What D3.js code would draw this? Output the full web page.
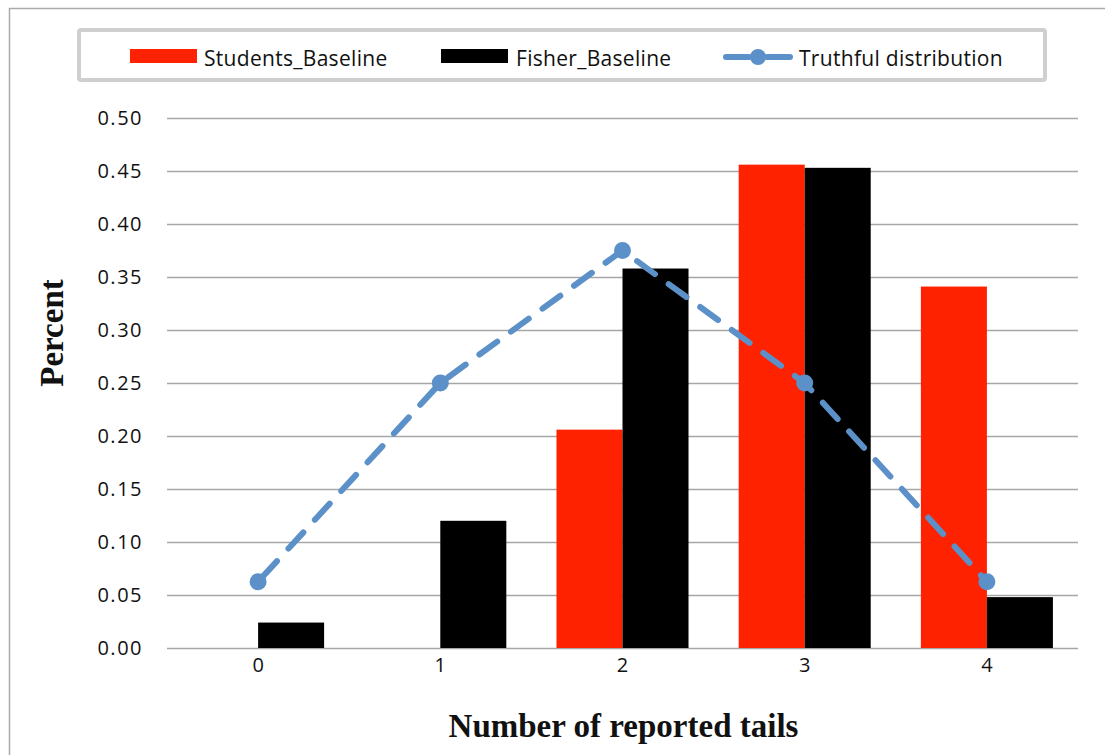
<!DOCTYPE html>
<html><head><meta charset="utf-8">
<script src="https://cdn.jsdelivr.net/npm/d3@7"></script>
<style>body{margin:0;background:#fff}</style>
</head><body>
<svg id="c" width="1105" height="755"></svg>
<script>
const categories = ["0","1","2","3","4"];
const studentsBaseline = [0, 0, 0.206, 0.456, 0.341];
const fisherBaseline = [0.024, 0.12, 0.358, 0.453, 0.048];
const truthful = [0.0625, 0.25, 0.375, 0.25, 0.0625];
const yTicks = [0,0.05,0.10,0.15,0.20,0.25,0.30,0.35,0.40,0.45,0.50];
const seriesNames = ["Students_Baseline","Fisher_Baseline","Truthful distribution"];

const svg = d3.select("#c");
const m = {l:167, r:1078, t:118, b:648};
// outer border
svg.append("rect").attr("x",9.5).attr("y",8.5).attr("width",1200).attr("height",900)
  .attr("fill","none").attr("stroke","#aaa").attr("stroke-width",1.5);

const x = d3.scaleBand().domain(categories).range([m.l,m.r]).paddingInner(0).paddingOuter(0);
const xs = d3.scaleBand().domain(["s","f"]).range([0,x.bandwidth()]).paddingInner(0).paddingOuter(0.38);
const y = d3.scaleLinear().domain([0,0.5]).range([m.b,m.t]);

const tickFont = "'Open Sans', sans-serif";
// grid
const yAxis = d3.axisLeft(y).tickValues(yTicks).tickFormat(d3.format(".2f")).tickSize(-(m.r-m.l)).tickPadding(24);
const ga = svg.append("g").attr("transform",`translate(${m.l},0)`).call(yAxis);
ga.select(".domain").remove();
ga.selectAll(".tick line").attr("stroke","#a6a6a6").attr("stroke-width",1.5);
ga.selectAll(".tick text").attr("font-family",tickFont).attr("font-size",20).attr("letter-spacing",1.5).attr("fill","#111");

// bars
svg.append("g").selectAll("rect").data(categories).join("rect")
  .attr("x",(d)=>x(d)+xs("s")).attr("width",xs.bandwidth())
  .attr("y",(d,i)=>y(studentsBaseline[i])).attr("height",(d,i)=>y(0)-y(studentsBaseline[i]))
  .attr("fill","#ff2200");
svg.append("g").selectAll("rect").data(categories).join("rect")
  .attr("x",(d)=>x(d)+xs("f")).attr("width",xs.bandwidth())
  .attr("y",(d,i)=>y(fisherBaseline[i])).attr("height",(d,i)=>y(0)-y(fisherBaseline[i]))
  .attr("fill","#000");

// x axis labels
const xAxis = d3.axisBottom(x).tickSize(0).tickPadding(10);
const gx = svg.append("g").attr("transform",`translate(0,${m.b})`).call(xAxis);
gx.select(".domain").remove();
gx.selectAll(".tick text").attr("font-family",tickFont).attr("font-size",20).attr("fill","#111");

// line
const lc = "#5b90c8";
const line = d3.line().x((d,i)=>x(categories[i])+x.bandwidth()/2).y(d=>y(d));
svg.append("path").datum(truthful).attr("d",line).attr("fill","none").attr("stroke",lc)
  .attr("stroke-width",6).attr("stroke-dasharray","22,17").attr("stroke-dashoffset",-6).attr("stroke-linecap","round");
svg.append("g").selectAll("circle").data(truthful).join("circle")
  .attr("cx",(d,i)=>x(categories[i])+x.bandwidth()/2).attr("cy",d=>y(d)).attr("r",8.5).attr("fill",lc);

// axis titles
svg.append("text").attr("x",(m.l+m.r)/2+1).attr("y",737).attr("text-anchor","middle")
  .attr("font-family","'Liberation Serif', serif").attr("font-weight","bold").attr("font-size",33)
  .attr("fill","#111").text("Number of reported tails");
svg.append("text").attr("transform","translate(63,333) rotate(-90)").attr("text-anchor","middle")
  .attr("font-family","'Liberation Serif', serif").attr("font-weight","bold").attr("font-size",33)
  .attr("fill","#111").text("Percent");

// legend
svg.append("rect").attr("x",79).attr("y",30).attr("width",966).attr("height",50)
  .attr("fill","#fff").attr("stroke","#cfcfcf").attr("stroke-width",4).attr("rx",2);
const lg = svg.append("g").attr("font-family",tickFont).attr("font-size",21).attr("fill","#111");
const lx = [130, 441, 723];
lg.append("rect").attr("x",lx[0]).attr("y",49).attr("width",67).attr("height",14).attr("fill","#ff2200");
lg.append("rect").attr("x",lx[1]).attr("y",49).attr("width",67).attr("height",14).attr("fill","#000");
lg.append("line").attr("x1",lx[2]+3).attr("x2",lx[2]+67).attr("y1",57).attr("y2",57)
  .attr("stroke",lc).attr("stroke-width",6).attr("stroke-linecap","round").attr("stroke-dasharray","23,18");
lg.append("circle").attr("cx",lx[2]+35).attr("cy",57).attr("r",8).attr("fill",lc);
const tx = [204, 516, 799];
seriesNames.forEach((n,i)=>lg.append("text").attr("x",tx[i]).attr("y",66).attr("letter-spacing",0.3).text(n));
</script>
</body></html>
